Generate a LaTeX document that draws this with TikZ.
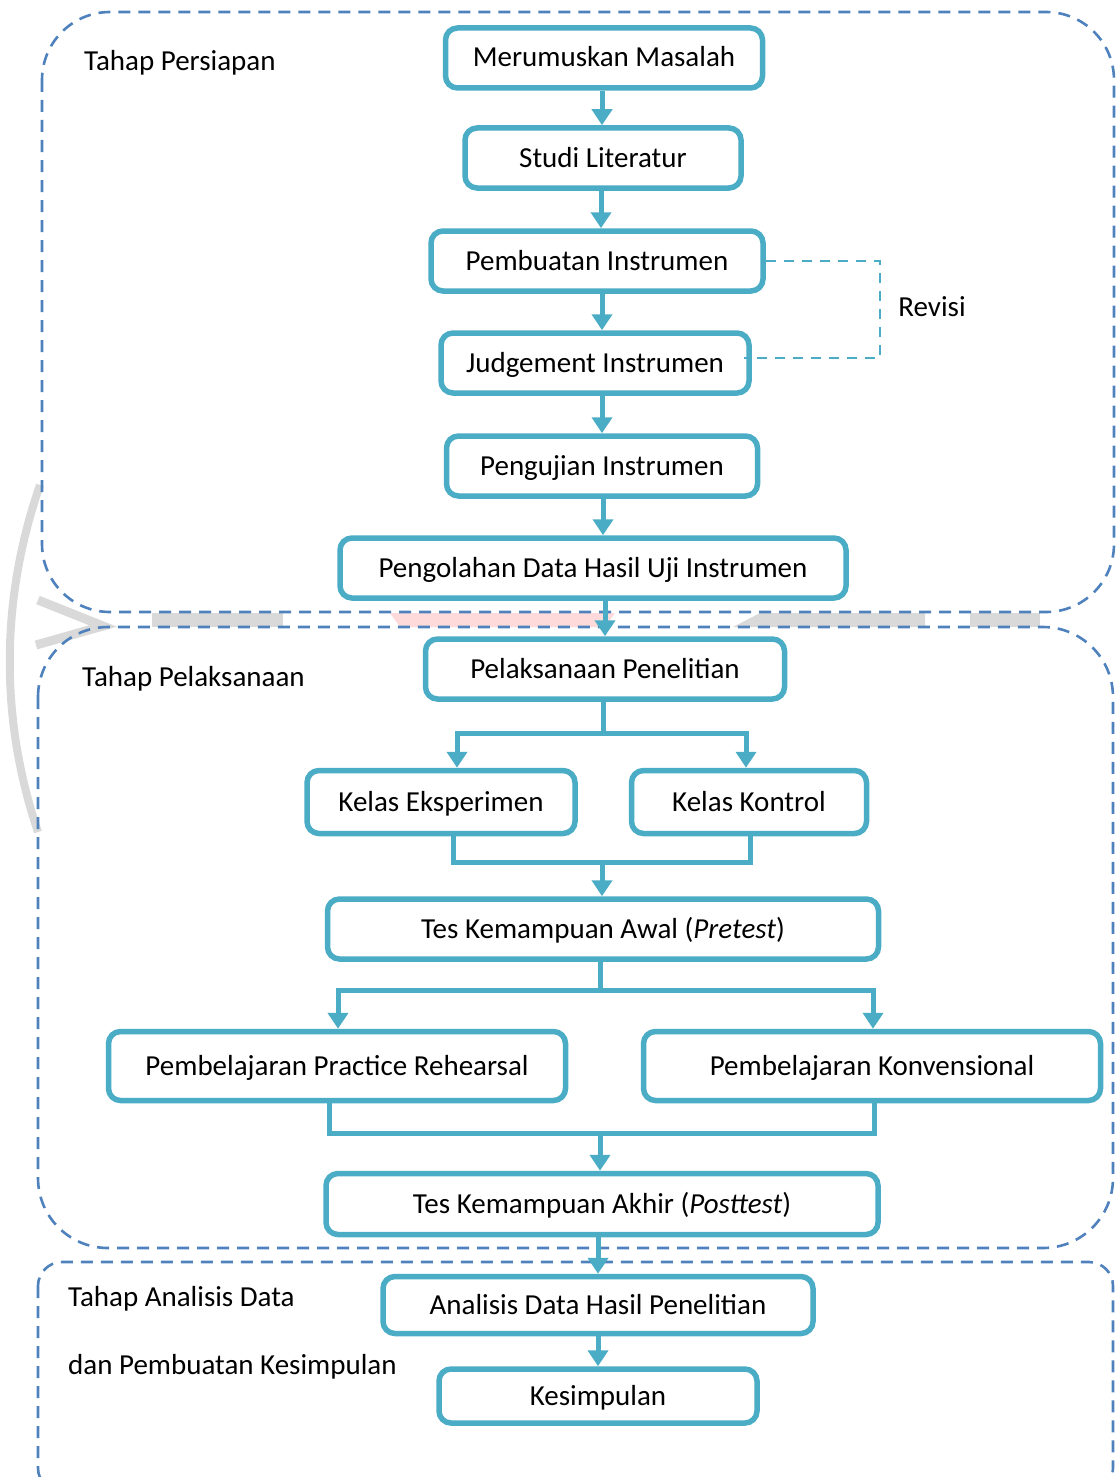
\documentclass[tikz,border=0pt]{standalone}
\usepackage{fontspec}
\setmainfont{Carlito}
\usetikzlibrary{arrows.meta,calc}
\definecolor{boxblue}{RGB}{75,172,198}
\definecolor{grpblue}{RGB}{79,129,189}
\definecolor{wmgray}{RGB}{217,217,217}
\definecolor{wmpink}{RGB}{255,218,218}
\tikzset{
  box/.style={draw=boxblue, line width=5.5pt, rounded corners=12pt, fill=white,
    inner sep=0pt, align=center, text height=24pt, text depth=6pt},
  lbl/.style={anchor=west, inner sep=0pt},
  ln/.style={draw=boxblue, line width=5pt},
  arr/.style={ln, -{Triangle[width=20pt,length=16pt]}},
  grp/.style={draw=grpblue, line width=2.6pt, dash pattern=on 12pt off 8pt},
  rev/.style={draw=boxblue, line width=2.6pt, dash pattern=on 10pt off 8pt},
  wm/.style={draw=wmgray, line width=8pt}
}
\begin{document}
\begin{tikzpicture}[x=1pt,y=-1pt, every node/.style={font=\fontsize{29}{35}\selectfont}]
\useasboundingbox (0,0) rectangle (1116,1477);
\clip (0,0) rectangle (1116,1477);
% faint watermark remnants
\draw[wm] (40,485) .. controls (0,600) and (0,720) .. (38,832);
\draw[wm, line width=9pt] (38,600) -- (103,626) -- (36,645);
\fill[wmgray] (152,613) rectangle (283,627);
\fill[wmpink] (390,613) -- (615,613) -- (605,627) -- (400,627) -- cycle;
\fill[wmgray] (733,627) -- (760,613) -- (925,613) -- (925,627) -- cycle;
\fill[wmgray] (970,613) rectangle (1040,627);
% group containers
\draw[grp, rounded corners=68pt] (42,12) rectangle (1114,612);
\draw[grp, rounded corners=70pt] (38,627) rectangle (1113,1248);
\draw[grp, rounded corners=24pt] (38,1262) rectangle (1113,1492);
% group labels
\node[lbl] (lA) at (84,63) {Tahap Persiapan};
\node[lbl] (lB) at (82,679) {Tahap Pelaksanaan};
\node[lbl] (lC1) at (68,1299) {Tahap Analisis Data};
\node[lbl] (lC2) at (68,1367) {dan Pembuatan Kesimpulan};
% boxes
\node[box, minimum width=317pt, minimum height=60pt] (m1) at (604,58) {Merumuskan Masalah};
\node[box, minimum width=276pt, minimum height=60pt] (m2) at (603,158) {Studi Literatur};
\node[box, minimum width=332pt, minimum height=60pt] (m3) at (597,261) {Pembuatan Instrumen};
\node[box, minimum width=308pt, minimum height=60pt] (m4) at (595,363) {Judgement Instrumen};
\node[box, minimum width=311pt, minimum height=60pt] (m5) at (602,466) {Pengujian Instrumen};
\node[box, minimum width=506pt, minimum height=60pt] (m6) at (593,568) {Pengolahan Data Hasil Uji Instrumen};
\node[box, minimum width=359pt, minimum height=60pt] (m7) at (605,669) {Pelaksanaan Penelitian};
\node[box, minimum width=268pt, minimum height=63pt] (ke) at (441,802) {Kelas Eksperimen};
\node[box, minimum width=235pt, minimum height=63pt] (kk) at (749,802) {Kelas Kontrol};
\node[box, minimum width=551pt, minimum height=60pt] (pre) at (603,929) {Tes Kemampuan Awal (\textit{Pretest})};
\node[box, minimum width=457pt, minimum height=69pt] (pr) at (337,1066) {Pembelajaran Practice Rehearsal};
\node[box, minimum width=457pt, minimum height=69pt] (pk) at (872,1066) {Pembelajaran Konvensional};
\node[box, minimum width=552pt, minimum height=61pt] (post) at (602,1204) {Tes Kemampuan Akhir (\textit{Posttest})};
\node[box, minimum width=430pt, minimum height=57pt] (ana) at (598,1305) {Analisis Data Hasil Penelitian};
\node[box, minimum width=318pt, minimum height=54pt] (kes) at (598,1396) {Kesimpulan};
% revisi loop
\draw[rev] (m3.east) -- (880,261) |- ([yshift=5pt,xshift=-8pt]m4.east);
\node (revlbl) at (932,307) {Revisi};
% sequential arrows
\draw[arr] ([xshift=-2pt]m1.south) -- ([xshift=-2pt]m1.south |- m2.north);
\draw[arr] ([xshift=-2pt]m2.south) -- ([xshift=-2pt]m2.south |- m3.north);
\draw[arr] ([xshift=5pt]m3.south) -- ([xshift=5pt]m3.south |- m4.north);
\draw[arr] ([xshift=7pt]m4.south) -- ([xshift=7pt]m4.south |- m5.north);
\draw[arr] ([xshift=1pt]m5.south) -- ([xshift=1pt]m5.south |- m6.north);
\draw[arr] ([xshift=12pt]m6.south) -- ([xshift=12pt]m6.south |- m7.north);
% split to classes
\draw[arr] ([xshift=-2pt]m7.south) -- ([xshift=-2pt]m7.south |- 0,733) -| ([xshift=16pt]ke.north);
\draw[arr] ([xshift=-2pt]m7.south) -- ([xshift=-2pt]m7.south |- 0,733) -| ([xshift=-3pt]kk.north);
% join classes
\draw[ln] ([xshift=12pt]ke.south) |- ([xshift=1pt]kk.south |- 0,862) -- ([xshift=1pt]kk.south);
\draw[arr] ([xshift=-1pt]pre.north |- 0,862) -- ([xshift=-1pt]pre.north);
% split to learning
\draw[arr] ([xshift=-3pt]pre.south) -- ([xshift=-3pt]pre.south |- 0,990) -| ([xshift=1pt]pr.north);
\draw[arr] ([xshift=-3pt]pre.south) -- ([xshift=-3pt]pre.south |- 0,990) -| ([xshift=1pt]pk.north);
% join learning
\draw[ln] ([xshift=-8pt]pr.south) |- ([xshift=2pt]pk.south |- 0,1133) -- ([xshift=2pt]pk.south);
\draw[arr] ([xshift=-2pt]post.north |- 0,1133) -- ([xshift=-2pt]post.north);
% analysis
\draw[arr] ([xshift=-4pt]post.south) -- ([xshift=-4pt]post.south |- ana.north);
\draw[arr] (ana.south) -- (kes.north);
\end{tikzpicture}
\end{document}
